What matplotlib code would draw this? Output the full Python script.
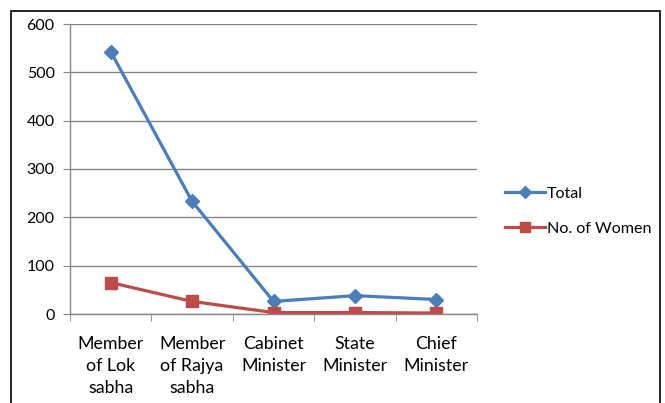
import matplotlib
matplotlib.use("Agg")
import matplotlib.pyplot as plt
from matplotlib.patches import Rectangle
from matplotlib.lines import Line2D

# positions held in parliament / government
categories = ["Member\nof Lok\nsabha", "Member\nof Rajya\nsabha", "Cabinet\nMinister",
              "State\nMinister", "Chief\nMinister"]
total = [543, 233, 26, 38, 30]
women = [65, 26, 3, 3, 2]
yticks = [0, 100, 200, 300, 400, 500, 600]

blue = "#4A7EBB"
red = "#BE4B48"
grey = "#868686"

plt.rcParams["font.family"] = ["Lato", "DejaVu Sans"]

W, H = 665, 403
fig = plt.figure(figsize=(W / 100, H / 100), dpi=100)
ax = fig.add_axes([70 / W, 1 - 314 / H, (477 - 70) / W, (314 - 24) / H])

x = list(range(len(categories)))
ax.plot(x, total, color=blue, lw=2.3, marker="D", ms=7.5, label="Total")
ax.plot(x, women, color=red, lw=2.3, marker="s", ms=8.5, label="No. of Women")

ax.set_xlim(-0.5, len(categories) - 0.5)
ax.set_ylim(0, 600)
ax.set_yticks(yticks)
ax.yaxis.grid(True, color=grey, lw=1)
ax.set_axisbelow(True)

ax.set_xticks(x)
ax.set_xticklabels(categories, fontsize=12.8, linespacing=1.45)
ax.set_xticks([i - 0.5 for i in range(len(categories) + 1)], minor=True)
ax.tick_params(axis="x", which="major", length=0, pad=16)
ax.tick_params(axis="x", which="minor", length=5, color=grey, direction="out")
ax.tick_params(axis="y", length=5, color=grey, labelsize=11.5, pad=6)

for s in ["top", "right"]:
    ax.spines[s].set_visible(False)
for s in ["left", "bottom"]:
    ax.spines[s].set_color(grey)
    ax.spines[s].set_linewidth(1)

# legend to the right of the plot area
handles = [Line2D([], [], color=blue, lw=2.3, marker="D", ms=6),
           Line2D([], [], color=red, lw=2.3, marker="s", ms=7.5)]
fig.legend(handles, ["Total", "No. of Women"], loc="center left",
           bbox_to_anchor=(490 / W, 1 - 211 / H), frameon=False, fontsize=11.6,
           handlelength=2.5, handletextpad=0.15, labelspacing=1.3)

# chart border
fig.patches.append(Rectangle((11 / W, -0.1), (660 - 11) / W, 1.1 - 11 / H,
                             transform=fig.transFigure, fill=False,
                             edgecolor="black", lw=1.2))

fig.savefig("out.png", dpi=100)
